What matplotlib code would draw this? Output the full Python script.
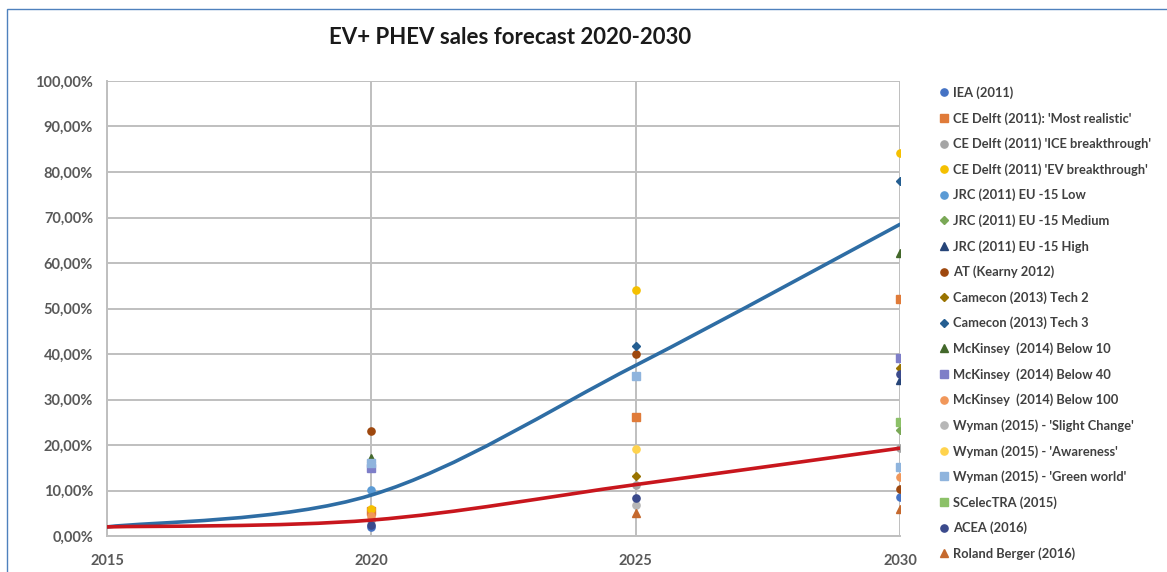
import numpy as np
import matplotlib.pyplot as plt
from matplotlib.path import Path
from matplotlib.patches import PathPatch, Rectangle
from matplotlib.ticker import FuncFormatter

plt.rcParams['font.family'] = ['Lato', 'DejaVu Sans']

years = [2020, 2025, 2030]
nan = np.nan

# forecast points per study (% of sales) for 2020, 2025, 2030
iea = [2.0, nan, 8.6]
ce_realistic = [5.5, 26.2, 52.0]
ce_ice = [3.5, 11.2, 19.3]
ce_ev = [6.0, 54.0, 84.1]
jrc_low = [10.2, nan, nan]
jrc_medium = [nan, nan, 23.3]
jrc_high = [nan, nan, 34.3]
at_kearny = [23.1, 40.1, 10.3]
camecon_t2 = [nan, 13.2, 37.0]
camecon_t3 = [nan, 41.8, 78.1]
mck_10 = [17.2, nan, 62.1]
mck_40 = [15.0, nan, 39.1]
mck_100 = [4.5, nan, 13.0]
wyman_slight = [nan, 6.8, nan]
wyman_aware = [nan, 19.1, nan]
wyman_green = [16.0, 35.2, 15.2]
scelectra = [nan, nan, 25.1]
acea = [2.5, 8.3, 35.5]
roland = [nan, 5.1, 5.9]

# trend lines
trend_years = [2015, 2020, 2025, 2030]
trend_high = [2.0, 9.0, 37.5, 68.5]
trend_low = [2.0, 3.5, 11.3, 19.3]

series = [
    ("IEA (2011)", iea, 'o', '#4472C4'),
    ("CE Delft (2011): 'Most realistic'", ce_realistic, 's', '#E07B39'),
    ("CE Delft (2011) 'ICE breakthrough'", ce_ice, 'o', '#A5A5A5'),
    ("CE Delft (2011) 'EV breakthrough'", ce_ev, 'o', '#F5C000'),
    ("JRC (2011) EU -15 Low", jrc_low, 'o', '#5B9BD5'),
    ("JRC (2011) EU -15 Medium", jrc_medium, 'D', '#7AA856'),
    ("JRC (2011) EU -15 High", jrc_high, '^', '#264478'),
    ("AT (Kearny 2012)", at_kearny, 'o', '#9E480E'),
    ("Camecon (2013) Tech 2", camecon_t2, 'D', '#997300'),
    ("Camecon (2013) Tech 3", camecon_t3, 'D', '#255E91'),
    ("McKinsey  (2014) Below 10", mck_10, '^', '#43682B'),
    ("McKinsey  (2014) Below 40", mck_40, 's', '#7E7EC8'),
    ("McKinsey  (2014) Below 100", mck_100, 'o', '#F1975A'),
    ("Wyman (2015) - 'Slight Change'", wyman_slight, 'o', '#B7B7B7'),
    ("Wyman (2015) - 'Awareness'", wyman_aware, 'o', '#FFD34D'),
    ("Wyman (2015) - 'Green world'", wyman_green, 's', '#8FB4DD'),
    ("SCelecTRA (2015)", scelectra, 's', '#8CC168'),
    ("ACEA (2016)", acea, 'o', '#3B4A8C'),
    ("Roland Berger (2016)", roland, '^', '#C5692E'),
]


def smooth_path(xs, ys):
    # Excel-style smoothed line as cubic Bezier segments
    xs = np.asarray(xs, float)
    ys = np.asarray(ys, float)
    pts = np.column_stack([xs, ys])
    verts = [pts[0]]
    codes = [Path.MOVETO]
    n = len(pts)
    for i in range(n - 1):
        p0 = pts[max(i - 1, 0)]
        p1 = pts[i]
        p2 = pts[i + 1]
        p3 = pts[min(i + 2, n - 1)]
        verts += [p1 + (p2 - p0) / 6, p2 - (p3 - p1) / 6, p2]
        codes += [Path.CURVE4] * 3
    return Path(verts, codes)


fig = plt.figure(figsize=(11.67, 5.72), dpi=100)
ax = fig.add_axes([0.0917, 0.0629, 0.6795, 0.7955])

gray = '#BFBFBF'
txt = '#595959'

for label, vals, mk, col in series:
    ms = 4.5 if mk == 'D' else 5.2
    ax.plot(years, vals, linestyle='none', marker=mk, markersize=ms,
            markerfacecolor=col, markeredgecolor=col, label=label, zorder=3)

ax.add_patch(PathPatch(smooth_path(trend_years, trend_high), facecolor='none',
                       edgecolor='#2E6DA4', lw=2.6, zorder=4, capstyle='round'))
ax.add_patch(PathPatch(smooth_path(trend_years, trend_low), facecolor='none',
                       edgecolor='#C8161D', lw=2.6, zorder=4, capstyle='round'))

ax.set_xlim(2015, 2030)
ax.set_ylim(0, 100)
ax.set_xticks([2015, 2020, 2025, 2030])
ax.set_yticks(np.arange(0, 101, 10))
ax.yaxis.set_major_formatter(FuncFormatter(lambda v, p: f"{v:.2f}%".replace('.', ',')))
ax.grid(True, color=gray, lw=1.4)
ax.set_axisbelow(True)
for s in ['top', 'right']:
    ax.spines[s].set_visible(False)
for s in ['left', 'bottom']:
    ax.spines[s].set_color(gray)
    ax.spines[s].set_linewidth(1.4)
ax.tick_params(length=0, labelsize=10.5, labelcolor=txt, pad=10)
for t in ax.get_xticklabels() + ax.get_yticklabels():
    t.set_fontweight('bold')
ax.tick_params(axis='x', pad=13)

fig.text(0.437, 0.934, "EV+ PHEV sales forecast 2020-2030", ha='center', va='center',
         fontsize=16, fontweight='bold', color='#1a1a1a')

leg = fig.legend(loc='upper left', bbox_to_anchor=(0.806, 0.849), frameon=False,
                 fontsize=9.3, labelspacing=1.0, handlelength=0.6, handletextpad=0.35,
                 borderaxespad=0, borderpad=0)
for t in leg.get_texts():
    t.set_color('#404040')
    t.set_fontweight('bold')

fig.add_artist(Rectangle((7 / 1167, -0.1), 1.2, 1.1 - 9 / 572, transform=fig.transFigure,
                         fill=False, edgecolor='#4F81BD', lw=1.0))

fig.savefig("out.png", dpi=100)
